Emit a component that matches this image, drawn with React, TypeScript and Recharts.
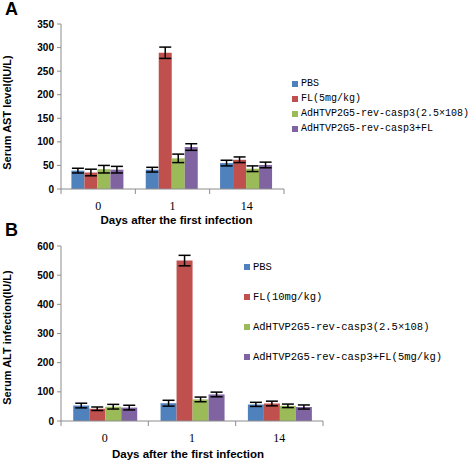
import React from 'react';
import { BarChart, Bar, XAxis, YAxis, ErrorBar, Legend, Label } from 'recharts';

const days = ['0', '1', '14'];

const seriesColors = ['#4F81BD', '#C0504D', '#9BBB59', '#8064A2'];

const astNames = ['PBS', 'FL(5mg/kg)', 'AdHTVP2G5-rev-casp3(2.5×108)', 'AdHTVP2G5-rev-casp3+FL'];
const astPBS = [39, 41, 55];
const astFL = [35, 289, 62];
const astAd = [42, 65, 43];
const astAdFL = [41, 89, 51];
const astPBSErr = [5, 5, 6];
const astFLErr = [7, 12, 6];
const astAdErr = [8, 9, 6];
const astAdFLErr = [7, 7, 6];
const astTicks = [0, 50, 100, 150, 200, 250, 300, 350];

const altNames = ['PBS', 'FL(10mg/kg)', 'AdHTVP2G5-rev-casp3(2.5×108)', 'AdHTVP2G5-rev-casp3+FL(5mg/kg)'];
const altPBS = [53, 61, 57];
const altFL = [42, 550, 60];
const altAd = [49, 74, 52];
const altAdFL = [46, 91, 48];
const altPBSErr = [8, 10, 7];
const altFLErr = [6, 18, 8];
const altAdErr = [8, 8, 6];
const altAdFLErr = [8, 8, 7];
const altTicks = [0, 100, 200, 300, 400, 500, 600];

const boundaryTicks = [0, 1, 2, 3];

const astData = days.map((d, i) => ({
  day: d,
  s0: astPBS[i], e0: astPBSErr[i],
  s1: astFL[i], e1: astFLErr[i],
  s2: astAd[i], e2: astAdErr[i],
  s3: astAdFL[i], e3: astAdFLErr[i],
  pos: i + 0.5,
}));

const altData = days.map((d, i) => ({
  day: d,
  s0: altPBS[i], e0: altPBSErr[i],
  s1: altFL[i], e1: altFLErr[i],
  s2: altAd[i], e2: altAdErr[i],
  s3: altAdFL[i], e3: altAdFLErr[i],
  pos: i + 0.5,
}));

const axisColor = '#8c8c8c';
const sans = 'Liberation Sans, Arial, sans-serif';
const mono = 'Liberation Mono, DejaVu Sans Mono, monospace';

const axisLineStyle = { stroke: axisColor };
const emptyTick = () => <g />;
const xTickStyle = { fill: '#000', fontSize: 12, fontFamily: 'Liberation Serif, Times New Roman, serif' };
const yTickStyle = { fill: '#000', fontSize: 10, fontFamily: sans, fontWeight: 'bold' };

function makeLegend(rowGap: number, fontSize: number) {
  return (props: any) => (
    <div style={{ fontFamily: mono, fontSize, color: '#000', lineHeight: 1 }}>
      {(props.payload || []).map((p: any, i: number) => (
        <div key={i} style={{ display: 'flex', alignItems: 'center', height: rowGap }}>
          <span style={{ display: 'inline-block', width: 6, height: 6, background: p.color, marginRight: 3 }} />
          <span>{p.value}</span>
        </div>
      ))}
    </div>
  );
}

function Panel(props: {
  data: any[];
  names: string[];
  ticks: number[];
  domainMax: number;
  height: number;
  top: number;
  marginTop: number;
  marginRight: number;
  yWidth: number;
  xHeight: number;
  yTitle: string;
  legendLeft: number;
  legendTop: number;
  legendRow: number;
  legendFont: number;
  tickMargin: number;
  titleDy: number;
  titleDx: number;
  yTitleDy: number;
}) {
  const p = props;
  return (
    <div style={{ position: 'absolute', left: 0, top: p.top }}>
      <BarChart
        width={473}
        height={p.height}
        data={p.data}
        margin={{ top: p.marginTop, right: p.marginRight, left: 0, bottom: 0 }}
        barCategoryGap="14%"
        barGap={0}
      >
        <XAxis
          xAxisId={0}
          dataKey="pos"
          type="number"
          domain={[0, 3]}
          ticks={boundaryTicks}
          interval={0}
          height={1}
          axisLine={axisLineStyle}
          tick={emptyTick}
          tickLine={axisLineStyle}
          tickSize={5}
        />
        <XAxis
          xAxisId={1}
          dataKey="day"
          height={p.xHeight - 1}
          axisLine={false}
          tickLine={false}
          tickMargin={p.tickMargin}
          tick={xTickStyle}
        >
          <Label
            content={(lp: any) => {
              const vb = lp.viewBox;
              return (
                <text
                  x={vb.x + vb.width / 2 + p.titleDx}
                  y={vb.y + p.titleDy - 1}
                  textAnchor="middle"
                  fontFamily={sans}
                  fontWeight="bold"
                  fontSize={11.5}
                  fill="#000"
                >
                  Days after the first infection
                </text>
              );
            }}
          />
        </XAxis>
        <YAxis
          width={p.yWidth}
          domain={[0, p.domainMax]}
          ticks={p.ticks}
          interval={0}
          axisLine={axisLineStyle}
          tickLine={axisLineStyle}
          tickSize={4}
          tickMargin={3}
          tick={yTickStyle}
        >
          <Label
            content={(lp: any) => {
              const vb = lp.viewBox;
              const cx = 11;
              const cy = vb.y + vb.height / 2 + p.yTitleDy;
              return (
                <text
                  x={cx}
                  y={cy}
                  transform={`rotate(-90 ${cx} ${cy})`}
                  textAnchor="middle"
                  fontFamily={sans}
                  fontWeight="bold"
                  fontSize={11}
                  fill="#000"
                >
                  {p.yTitle}
                </text>
              );
            }}
          />
        </YAxis>
        <Legend
          layout="vertical"
          align="center"
          verticalAlign="middle"
          itemSorter="dataKey"
          wrapperStyle={{ left: p.legendLeft, top: p.legendTop, width: 'auto', bottom: 'auto', right: 'auto' }}
          content={makeLegend(p.legendRow, p.legendFont)}
        />
        {[0, 1, 2, 3].map((k) => (
          <Bar
            key={k}
            xAxisId={1}
            dataKey={`s${k}`}
            name={p.names[k]}
            fill={seriesColors[k]}
            isAnimationActive={false}
          >
            <ErrorBar dataKey={`e${k}`} width={6} stroke="#000" strokeWidth={1.5} />
          </Bar>
        ))}
      </BarChart>
    </div>
  );
}

export default function App() {
  return (
    <div style={{ position: 'absolute', left: 0, top: 0, width: 473, height: 461, background: '#fff' }}>
      <Panel
        data={astData}
        names={astNames}
        ticks={astTicks}
        domainMax={350}
        height={232}
        top={0}
        marginTop={24}
        marginRight={189}
        yWidth={61}
        xHeight={43}
        yTitle="Serum AST level(IU/L)"
        legendLeft={292}
        legendTop={76}
        legendRow={15}
        legendFont={10}
        tickMargin={5}
        titleDy={35}
        titleDx={4}
        yTitleDy={6}
      />
      <Panel
        data={altData}
        names={altNames}
        ticks={altTicks}
        domainMax={600}
        height={233}
        top={228}
        marginTop={18}
        marginRight={150}
        yWidth={61}
        xHeight={40}
        yTitle="Serum ALT infection(IU/L)"
        legendLeft={244}
        legendTop={24}
        legendRow={30}
        legendFont={10.5}
        tickMargin={5}
        titleDy={37}
        titleDx={-4}
        yTitleDy={4}
      />
      <div style={{ position: 'absolute', left: 5, top: 0, fontFamily: sans, fontWeight: 'bold', fontSize: 18, lineHeight: '18px' }}>A</div>
      <div style={{ position: 'absolute', left: 5, top: 221, fontFamily: sans, fontWeight: 'bold', fontSize: 18, lineHeight: '18px' }}>B</div>
    </div>
  );
}
